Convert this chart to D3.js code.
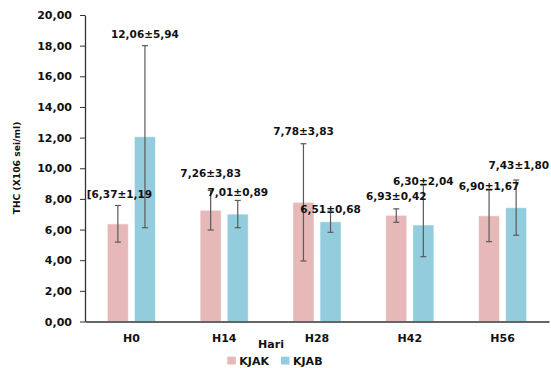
<!DOCTYPE html>
<html><head><meta charset="utf-8">
<script src="https://cdn.jsdelivr.net/npm/d3@7"></script>
<style>
html,body{margin:0;padding:0;background:#fff;}
text{font-family:"DejaVu Sans",Verdana,sans-serif;font-weight:bold;fill:#111;}
</style></head>
<body>
<svg id="chart" width="551" height="368"></svg>
<script>
const categories = ["H0","H14","H28","H42","H56"];
const seriesNames = ["KJAK","KJAB"];
const kjakValues = [6.37,7.26,7.78,6.93,6.90];
const kjabValues = [12.06,7.01,6.51,6.30,7.43];
const kjakLow  = [5.18,5.97,3.95,6.47,5.21];
const kjakHigh = [7.57,8.55,11.60,7.35,8.57];
const kjabLow  = [6.12,6.12,5.82,4.23,5.63];
const kjabHigh = [18.00,7.90,7.20,8.90,9.23];
const kjakLabels = ["[6,37±1,19","7,26±3,83","7,78±3,83","6,93±0,42","6,90±1,67"];
const kjabLabels = ["12,06±5,94","7,01±0,89","6,51±0,68","6,30±2,04","7,43±1,80"];
const yTicks = [0,2,4,6,8,10,12,14,16,18,20];
const yTitle = "THC (X106 sei/ml)";
const xTitle = "Hari";

(function(){
const colors = {KJAK:"#e6b9b8", KJAB:"#93cddd"};
const svg = d3.select("#chart");
const mLeft = 85, mRight = 549, mTop = 15, mBottom = 321.5;

const x0 = d3.scaleBand().domain(categories).range([mLeft, mRight]).padding(0);
const x1 = d3.scaleBand().domain(seriesNames).range([22.3, 70.5]).paddingInner(0.22);
const y = d3.scaleLinear().domain([0,20]).range([mBottom, mTop]);

const series = [
  {name:"KJAK", values:kjakValues, low:kjakLow, high:kjakHigh, labels:kjakLabels},
  {name:"KJAB", values:kjabValues, low:kjabLow, high:kjabHigh, labels:kjabLabels}
];
// label placement (data units for y, pixel offset for x)
const labelLayout = {
  KJAK: {dy:[8.06,9.43,12.17,7.93,8.55], dx:[1.6,0,0,0,0]},
  KJAB: {dy:[18.53,8.19,7.05,8.91,9.95], dx:[0,0,0,0,2.7]}
};

// bars
series.forEach(s => {
  const g = svg.append("g");
  g.selectAll("rect").data(categories).join("rect")
    .attr("x", c => x0(c) + x1(s.name))
    .attr("y", (c,i) => y(s.values[i]))
    .attr("width", x1.bandwidth())
    .attr("height", (c,i) => y(0) - y(s.values[i]))
    .attr("fill", colors[s.name])
    .attr("stroke", "#ffffff").attr("stroke-opacity",0.6).attr("stroke-width",1);
});

// axes
const yAxis = d3.axisLeft(y).tickValues(yTicks).tickSize(5).tickSizeOuter(0).tickPadding(8)
  .tickFormat(d => d3.format(".2f")(d).replace(".", ","));
const ya = svg.append("g").attr("transform", `translate(${mLeft},0)`).call(yAxis);
ya.select(".domain").attr("stroke","#333").attr("stroke-width",1.3);
ya.selectAll(".tick line").attr("stroke","#333").attr("stroke-width",1);
ya.selectAll(".tick text").style("font-size","11px").attr("fill","#111")
  .style("font-family","'DejaVu Sans',Verdana,sans-serif").style("font-weight","bold");

const xAxis = d3.axisBottom(x0).tickSize(0).tickSizeOuter(0).tickPadding(13);
const xa = svg.append("g").attr("transform", `translate(0,${mBottom})`).call(xAxis);
xa.select(".domain").attr("stroke","#333").attr("stroke-width",1.3);
xa.selectAll(".tick text").style("font-size","11px").attr("fill","#111")
  .style("font-family","'DejaVu Sans',Verdana,sans-serif").style("font-weight","bold");

// error bars
series.forEach(s => {
  const g = svg.append("g").attr("stroke","#5a5a5a").attr("stroke-width",1.2);
  categories.forEach((c,i) => {
    const cx = x0(c) + x1(s.name) + x1.bandwidth()/2;
    g.append("line").attr("x1",cx).attr("x2",cx).attr("y1",y(s.low[i])).attr("y2",y(s.high[i]));
    [s.low[i], s.high[i]].forEach(v => {
      g.append("line").attr("x1",cx-3).attr("x2",cx+3).attr("y1",y(v)).attr("y2",y(v));
    });
  });
});

// data labels
series.forEach(s => {
  const L = labelLayout[s.name];
  svg.append("g").selectAll("text").data(categories).join("text")
    .attr("x", (c,i) => x0(c) + x1(s.name) + x1.bandwidth()/2 + L.dx[i])
    .attr("y", (c,i) => y(L.dy[i]))
    .attr("text-anchor","middle")
    .style("font-size","10.5px")
    .text((c,i) => s.labels[i]);
});

// axis titles
svg.append("text")
  .attr("transform", `translate(20,168) rotate(-90)`)
  .attr("text-anchor","middle").style("font-size","9.2px").text(yTitle);
svg.append("text").attr("x",271).attr("y",347.5).attr("text-anchor","middle")
  .style("font-size","11px").text(xTitle);

// legend
const legendX = [227.3, 281];
seriesNames.forEach((n,i) => {
  svg.append("rect").attr("x",legendX[i]).attr("y",356.7).attr("width",8.5).attr("height",7.8).attr("fill",colors[n]);
  svg.append("text").attr("x",legendX[i]+12).attr("y",364.5).style("font-size","11px").text(n);
});
})();
</script>
</body></html>
